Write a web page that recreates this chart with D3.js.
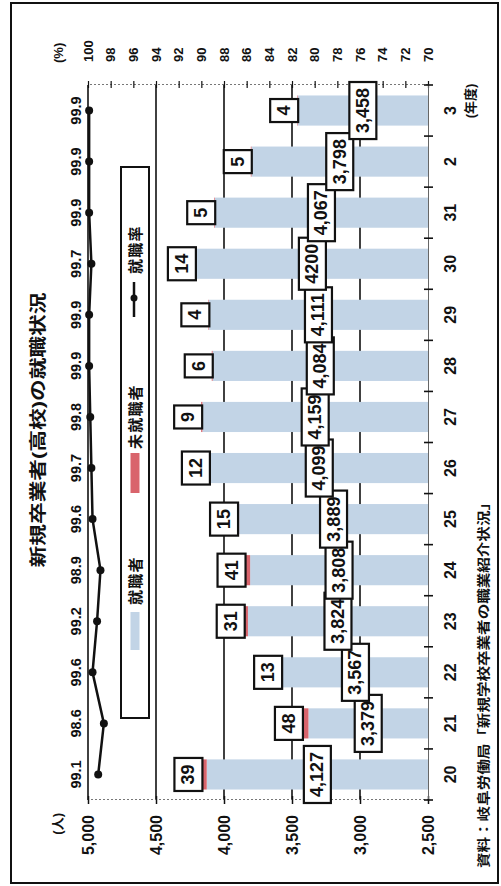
<!DOCTYPE html>
<html><head><meta charset="utf-8">
<script src="https://cdn.jsdelivr.net/npm/d3@7"></script>
<style>
html,body{margin:0;padding:0;background:#fff;}
svg{display:block;}
text{font-family:"Liberation Sans","Noto Sans CJK JP",sans-serif;font-weight:bold;fill:#111;}
</style></head><body>
<svg id="c" width="501" height="886"></svg>
<script>
// ---- data ----
const years = ["20","21","22","23","24","25","26","27","28","29","30","31","2","3"];
const employed = [4127,3379,3567,3824,3808,3889,4099,4159,4084,4111,4200,4067,3798,3458];
const employedText = ["4,127","3,379","3,567","3,824","3,808","3,889","4,099","4,159","4,084","4,111","4200","4,067","3,798","3,458"];
const unemployed = [39,48,13,31,41,15,12,9,6,4,14,5,5,4];
const rate = [99.1,98.6,99.6,99.2,98.9,99.6,99.7,99.8,99.9,99.9,99.7,99.9,99.9,99.9];
const leftTicks = [5000,4500,4000,3500,3000,2500];
const rightTicks = [100,98,96,94,92,90,88,86,84,82,80,78,76,74,72,70];
const seriesNames = ["就職者","未就職者","就職率"];
const title = "新規卒業者(高校)の就職状況";
const source = "資料：岐阜労働局「新規学校卒業者の職業紹介状況」";

const BLUE = "#c2d4e6", RED = "#d9646c", INK = "#111";

const svg = d3.select("#c");
svg.append("rect").attr("width",501).attr("height",886).attr("fill","#fff");
// chart is drawn in an unrotated frame (886 x 501) and turned 90deg counter-clockwise
const g = svg.append("g").attr("transform","translate(0,886) rotate(-90)");

const x = d3.scaleBand().domain(years).range([86,801]).paddingInner(0.41).paddingOuter(0.205);
const yL = d3.scaleLinear().domain([2500,5000]).range([428,88]);
const yR = d3.scaleLinear().domain([70,100]).range([428,88]);
const bw = x.bandwidth();
const cx = d => x(d) + bw/2;

// outer frame
g.append("rect").attr("x",3).attr("y",11).attr("width",880).attr("height",487)
  .attr("fill","none").attr("stroke",INK).attr("stroke-width",2);

// title
g.append("text").attr("x",456).attr("y",38).attr("text-anchor","middle")
  .attr("dominant-baseline","central").attr("font-size",17)
  .attr("textLength",275).attr("lengthAdjust","spacingAndGlyphs").text(title);

// source
g.append("text").attr("x",18).attr("y",483).attr("dominant-baseline","central")
  .attr("font-size",13).attr("textLength",373).attr("lengthAdjust","spacingAndGlyphs").text(source);

// gridlines
g.append("g").selectAll("line").data(leftTicks.filter(d => d > 2500)).join("line")
  .attr("x1",86).attr("x2",801).attr("y1",d => yL(d)).attr("y2",d => yL(d))
  .attr("stroke",INK).attr("stroke-width",1.6);

// left axis
const axL = g.append("g").attr("transform","translate(86,0)")
  .call(d3.axisLeft(yL).tickValues(leftTicks).tickFormat(d3.format(",")).tickSize(4).tickPadding(11));
axL.select(".domain").attr("stroke","#777").attr("stroke-dasharray","2,2");
axL.selectAll(".tick line").attr("x2",4).attr("x1",-4).attr("stroke",INK).attr("stroke-width",1.5);
axL.selectAll("text").attr("font-size",16).attr("font-family",null).attr("fill",INK);
axL.attr("font-family",null);
g.append("text").attr("x",73).attr("y",57).attr("text-anchor","end").attr("dominant-baseline","central")
  .attr("font-size",13).text("(人)");

// right axis
const axR = g.append("g").attr("transform","translate(801,0)")
  .call(d3.axisRight(yR).tickValues(rightTicks).tickFormat(d3.format("d")).tickSize(4).tickPadding(19));
axR.select(".domain").attr("stroke","#777").attr("stroke-dasharray","2,2");
axR.selectAll(".tick line").attr("x1",-3).attr("stroke",INK).attr("stroke-width",1.2);
axR.selectAll("text").attr("font-size",13).attr("fill",INK);
axR.attr("font-family",null);
g.append("text").attr("x",823).attr("y",58).attr("dominant-baseline","central")
  .attr("font-size",13).text("(%)");

// bars
const bars = g.append("g");
bars.selectAll("rect.emp").data(years).join("rect").attr("class","emp")
  .attr("x",d => x(d)).attr("width",bw)
  .attr("y",(d,i) => yL(employed[i])).attr("height",(d,i) => yL(2500) - yL(employed[i]))
  .attr("fill",BLUE);
bars.selectAll("rect.un").data(years).join("rect").attr("class","un")
  .attr("x",d => x(d)).attr("width",bw)
  .attr("y",(d,i) => yL(employed[i] + unemployed[i]))
  .attr("height",(d,i) => yL(employed[i]) - yL(employed[i] + unemployed[i]))
  .attr("fill",RED);

// category axis
const axB = g.append("g").attr("transform","translate(0,428)")
  .call(d3.axisBottom(x).tickSize(0).tickPadding(17));
axB.select(".domain").attr("stroke","#666").attr("stroke-width",1);
axB.selectAll("text").attr("font-size",16).attr("fill",INK);
axB.attr("font-family",null);
const bounds = years.map(d => x(d) - x.step()*x.paddingInner()/2)
  .concat([x(years[years.length-1]) + bw + x.step()*x.paddingInner()/2]);
axB.selectAll("line.b").data(bounds).join("line").attr("class","b")
  .attr("x1",d => d).attr("x2",d => d).attr("y1",-4).attr("y2",5)
  .attr("stroke",INK).attr("stroke-width",1.6);
g.append("text").attr("x",785).attr("y",470).attr("text-anchor","middle").attr("dominant-baseline","central")
  .attr("font-size",13).text("(年度)");

// employment rate line
const line = d3.line().x((d,i) => cx(years[i])).y(d => yR(d));
g.append("path").datum(rate).attr("d",line).attr("fill","none").attr("stroke",INK).attr("stroke-width",2.5);
g.append("g").selectAll("circle").data(rate).join("circle")
  .attr("cx",(d,i) => cx(years[i])).attr("cy",d => yR(d)).attr("r",4).attr("fill",INK);
g.append("g").selectAll("text").data(rate).join("text")
  .attr("x",(d,i) => cx(years[i])).attr("y",76).attr("text-anchor","middle").attr("dominant-baseline","central")
  .attr("font-size",14.5).text(d => d3.format(".1f")(d));

// employed labels (boxed, centred in blue bar)
years.forEach((d,i) => {
  const gg = g.append("g");
  const r = gg.append("rect");
  const cy = (yL(2500) + yL(employed[i]))/2;
  const t = gg.append("text").attr("x",cx(d)).attr("y",cy).attr("text-anchor","middle")
    .attr("dominant-baseline","central").attr("font-size",18).text(employedText[i]);
  const w = t.node().getComputedTextLength() + 12;
  r.attr("x",cx(d) - w/2).attr("y",cy - 13.5).attr("width",w).attr("height",27)
    .attr("fill","#fff").attr("stroke",INK).attr("stroke-width",2.2);
});

// unemployed labels (boxed, above stack)
years.forEach((d,i) => {
  const gg = g.append("g");
  const r = gg.append("rect");
  const top = yL(employed[i] + unemployed[i]);
  const cy = top + 1 - 14;
  const t = gg.append("text").attr("x",cx(d)).attr("y",cy).attr("text-anchor","middle")
    .attr("dominant-baseline","central").attr("font-size",18).text(unemployed[i]);
  const w = t.node().getComputedTextLength() + 13;
  r.attr("x",cx(d) - w/2).attr("y",cy - 14).attr("width",w).attr("height",28)
    .attr("fill","#fff").attr("stroke",INK).attr("stroke-width",2.2);
});

// legend
const lg = g.append("g");
lg.append("rect").attr("x",168).attr("y",121).attr("width",551).attr("height",28)
  .attr("fill","#fff").attr("stroke",INK).attr("stroke-width",2);
lg.append("rect").attr("x",236).attr("y",130.5).attr("width",38).attr("height",9).attr("fill",BLUE);
lg.append("text").attr("x",281).attr("y",135).attr("dominant-baseline","central").attr("font-size",15)
  .attr("letter-spacing",1.2).text(seriesNames[0]);
lg.append("rect").attr("x",393).attr("y",130.5).attr("width",40).attr("height",9).attr("fill",RED);
lg.append("text").attr("x",437).attr("y",135).attr("dominant-baseline","central").attr("font-size",15)
  .attr("letter-spacing",1.2).text(seriesNames[1]);
lg.append("line").attr("x1",569).attr("x2",604).attr("y1",134).attr("y2",134).attr("stroke",INK).attr("stroke-width",2.5);
lg.append("circle").attr("cx",588).attr("cy",134).attr("r",3.5).attr("fill",INK);
lg.append("text").attr("x",612).attr("y",135).attr("dominant-baseline","central").attr("font-size",15)
  .attr("letter-spacing",1.2).text(seriesNames[2]);
</script>
</body></html>
